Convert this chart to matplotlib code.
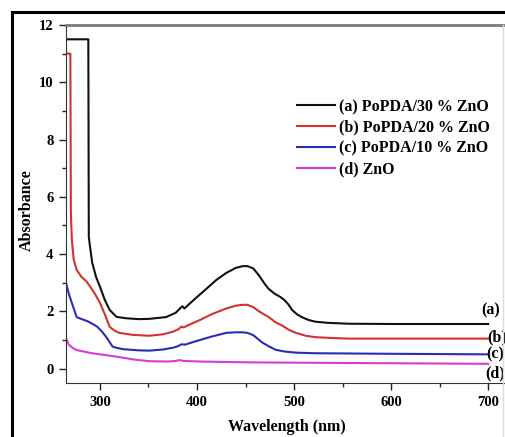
import matplotlib.pyplot as plt
from matplotlib.lines import Line2D
from matplotlib.ticker import MultipleLocator

# (a) PoPDA/30 % ZnO
wl_a = [265, 288, 288.5, 290, 292, 296, 300, 305, 310, 317, 327, 340, 351, 368, 378,
        383, 385, 387, 395, 410, 420, 430, 440, 447, 452, 458, 464, 470, 474, 480,
        486, 490, 494, 498, 503, 508, 515, 522, 535, 556, 600, 650, 700]
abs_a = [11.5, 11.5, 4.6, 4.2, 3.7, 3.2, 2.86, 2.4, 2.05, 1.81, 1.76, 1.73, 1.74, 1.8, 1.95,
         2.12, 2.18, 2.1, 2.35, 2.8, 3.1, 3.34, 3.52, 3.58, 3.58, 3.5, 3.25, 2.95, 2.78, 2.62,
         2.5, 2.4, 2.25, 2.05, 1.9, 1.8, 1.7, 1.64, 1.6, 1.57, 1.56, 1.56, 1.56]

# (b) PoPDA/20 % ZnO
wl_b = [265, 269.5, 270, 271, 273, 276, 281, 286, 290, 295, 300, 305, 310, 315, 320, 334,
        351, 365, 375, 381, 384, 386, 393, 403, 415, 430, 440, 447, 452, 458, 464, 474,
        481, 488, 495, 502, 512, 522, 540, 556, 600, 650, 700]
abs_b = [11.0, 11.0, 5.5, 4.5, 3.8, 3.45, 3.2, 3.05, 2.86, 2.6, 2.3, 1.9, 1.46, 1.33, 1.25, 1.18,
         1.15, 1.2, 1.29, 1.38, 1.47, 1.44, 1.55, 1.7, 1.9, 2.1, 2.2, 2.23, 2.23, 2.15, 2.0, 1.8,
         1.62, 1.5, 1.35, 1.25, 1.15, 1.1, 1.07, 1.05, 1.05, 1.05, 1.05]

# (c) PoPDA/10 % ZnO
wl_c = [265, 268, 271, 276, 282, 287, 292, 297, 302, 307, 313, 318, 324, 340, 351, 365,
        375, 380, 384, 388, 395, 403, 415, 430, 440, 447, 452, 458, 467, 474, 481, 490,
        502, 520, 556, 600, 650, 700]
abs_c = [3.0, 2.6, 2.3, 1.8, 1.72, 1.66, 1.57, 1.47, 1.3, 1.08, 0.77, 0.72, 0.68, 0.64, 0.63, 0.67,
         0.73, 0.78, 0.85, 0.84, 0.92, 1.0, 1.12, 1.25, 1.27, 1.27, 1.25, 1.17, 0.92, 0.78, 0.66, 0.6,
         0.56, 0.54, 0.53, 0.52, 0.51, 0.5]

# (d) ZnO
wl_d = [265, 268, 272, 276, 283, 290, 300, 317, 335, 351, 370, 378, 382, 386, 403, 454, 500, 600, 700]
abs_d = [1.08, 0.83, 0.72, 0.65, 0.6, 0.55, 0.5, 0.42, 0.32, 0.26, 0.25, 0.27, 0.3, 0.27, 0.25,
         0.22, 0.21, 0.19, 0.17]

labels = ["(a) PoPDA/30 % ZnO", "(b) PoPDA/20 % ZnO", "(c) PoPDA/10 % ZnO", "(d) ZnO"]
tags = ["(a)", "(b)", "(c)", "(d)"]
tag_pos = [(693, 2.02), (699, 1.1), (698, 0.49), (697, -0.17)]
colors = ["#111111", "#d63030", "#2b2bb8", "#d83ad8"]

plt.rcParams["font.family"] = ["Liberation Serif", "DejaVu Serif"]
plt.rcParams["font.weight"] = "bold"

W, H = 505, 437
fig = plt.figure(figsize=(W / 100, H / 100), dpi=100)
ax = fig.add_axes([66 / W, 1 - 383 / H, (W - 66) / W, (383 - 25) / H])

series = [(wl_a, abs_a), (wl_b, abs_b), (wl_c, abs_c), (wl_d, abs_d)]
for (x, y), c, lab in zip(series, colors, labels):
    ax.plot(x, y, color=c, lw=1.5, label=lab)

for t, (x, y), in zip(tags, tag_pos):
    ax.text(x, y, t, fontsize=11.5, fontweight="bold", va="center", ha="left", clip_on=False)

ax.set_xlim(265, 717.4)
ax.set_ylim(-0.5, 12)
ax.xaxis.set_major_locator(MultipleLocator(100))
ax.xaxis.set_minor_locator(MultipleLocator(50))
ax.yaxis.set_major_locator(MultipleLocator(2))
ax.yaxis.set_minor_locator(MultipleLocator(1))
ax.tick_params(which="major", length=5, width=1, labelsize=10.5, pad=4, color="#222222")
ax.tick_params(which="minor", length=3, width=1, color="#222222")
for lbl in ax.get_xticklabels() + ax.get_yticklabels():
    lbl.set_fontweight("bold")

ax.spines["right"].set_visible(False)
ax.spines["top"].set_color("#7a7a7a")
ax.spines["top"].set_linewidth(2)
ax.spines["left"].set_color("#333333")
ax.spines["bottom"].set_color("#333333")

ax.set_xlabel("Wavelength (nm)", fontsize=11.5, fontweight="bold")
ax.set_ylabel("Absorbance", fontsize=11.5, fontweight="bold")
ax.xaxis.set_label_coords(0.503, -0.1)
ax.yaxis.set_label_coords(-0.07, 0.483)

leg = ax.legend(loc="upper left", bbox_to_anchor=(297 / W, 1 - 99 / H),
                bbox_transform=fig.transFigure, frameon=False, fontsize=11.5,
                handlelength=2.4, handletextpad=0.2, labelspacing=0.3,
                borderpad=0, borderaxespad=0)
for t in leg.get_texts():
    t.set_fontweight("bold")

# outer frame of the picture
fig.add_artist(Line2D([12 / W, 12 / W], [0, 1 - 12 / H], color="black", lw=2.2,
                      transform=fig.transFigure))
fig.add_artist(Line2D([12 / W, 1], [1 - 12 / H, 1 - 12 / H], color="black", lw=2.2,
                      transform=fig.transFigure))
fig.add_artist(Line2D([503 / W, 503 / W], [0, 1 - 25 / H], color="#dddddd", lw=1,
                      transform=fig.transFigure))

fig.savefig("out.png", dpi=100)
